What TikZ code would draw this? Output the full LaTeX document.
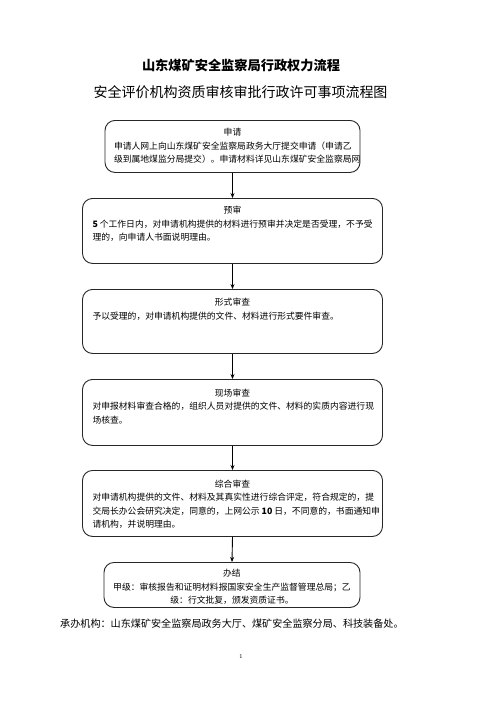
\documentclass[tikz,border=0pt]{standalone}
\usepackage{fontspec}
\newfontfamily\cjk{Noto Sans CJK SC}
\usetikzlibrary{arrows.meta}
\tikzset{
  flowbox/.style={draw=black!85, line width=0.9pt, rounded corners=10pt, inner xsep=10pt, inner ysep=0pt, anchor=north,
    font=\cjk\fontsize{8.8pt}{13.3pt}\selectfont},
  flowarrow/.style={draw=black, line width=0.9pt, -{Stealth[length=5pt,width=4pt]}},
  titleone/.style={inner sep=0pt, font=\cjk\bfseries\fontsize{13.2pt}{15pt}\selectfont},
  titletwo/.style={inner sep=0pt, font=\cjk\fontsize{14pt}{16pt}\selectfont},
  footnode/.style={anchor=west, inner sep=0pt, font=\cjk\fontsize{10.1pt}{12pt}\selectfont},
}
% #1 alignment, #2 width, #3 height, #4 first-baseline strut, #5 title, #6 body
\newcommand{\flowcontent}[6]{\parbox[c][#3][t]{#2}{#1\makebox[\linewidth]{\rule{0pt}{#4}#5}\\#6}}
\begin{document}
\begin{tikzpicture}[x=1pt,y=-1pt]
\fill[white] (0,0) rectangle (496,702);
\useasboundingbox (0,0) rectangle (496,702);

\node[titleone] (t1) at (241,65) {山东煤矿安全监察局行政权力流程};
\node[titletwo] (t2) at (240.5,92) {安全评价机构资质审核审批行政许可事项流程图};

\node[flowbox, inner xsep=9pt] (apply) at (232.5,120)
  {\flowcontent{\raggedright}{237pt}{52pt}{15.3pt}{申请}{\mbox{申请人网上向山东煤矿安全监察局政务大厅提交申请（申请乙}\\\mbox{级到属地煤监分局提交）。申请材料详见山东煤矿安全监察局网}}};

\node[flowbox] (pre) at (232.5,198)
  {\flowcontent{\raggedright}{280pt}{65pt}{15.3pt}{预审}{\mbox{\textbf{5} 个工作日内，对申请机构提供的材料进行预审并决定是否受理，不予受}\\理的，向申请人书面说明理由。}};

\node[flowbox] (form) at (232.5,289)
  {\flowcontent{\raggedright}{280pt}{64pt}{16.3pt}{形式审查}{予以受理的，对申请机构提供的文件、材料进行形式要件审查。}};

\node[flowbox] (site) at (232.5,379)
  {\flowcontent{\raggedright}{280pt}{66pt}{17pt}{现场审查}{\mbox{对申报材料审查合格的，组织人员对提供的文件、材料的实质内容进行现}\\场核查。}};

\node[flowbox] (comp) at (232.5,470)
  {\flowcontent{\raggedright}{280pt}{66pt}{17pt}{综合审查}{\mbox{对申请机构提供的文件、材料及其真实性进行综合评定，符合规定的，提}\\\mbox{交局长办公会研究决定，同意的，上网公示 \textbf{10} 日，不同意的，书面通知申}\\请机构，并说明理由。}};

\node[flowbox, inner xsep=9pt] (done) at (232,562)
  {\flowcontent{\centering}{238pt}{45pt}{14.3pt}{办结}{\mbox{甲级：审核报告和证明材料报国家安全生产监督管理总局；乙}\\级：行文批复，颁发资质证书。}};

\draw[flowarrow] (apply.south) -- (pre.north);
\draw[flowarrow] (pre.south) -- (form.north);
\draw[flowarrow] (form.south) -- (site.north);
\draw[flowarrow] (site.south) -- (comp.north);
\draw[flowarrow] (comp.south) -- (done.north);

\node[footnode] (org) at (60,624) {承办机构：山东煤矿安全监察局政务大厅、煤矿安全监察分局、科技装备处。};
\node[inner sep=0pt, font=\fontsize{6pt}{7pt}\selectfont] (pg) at (241,656) {1};
\end{tikzpicture}
\end{document}
